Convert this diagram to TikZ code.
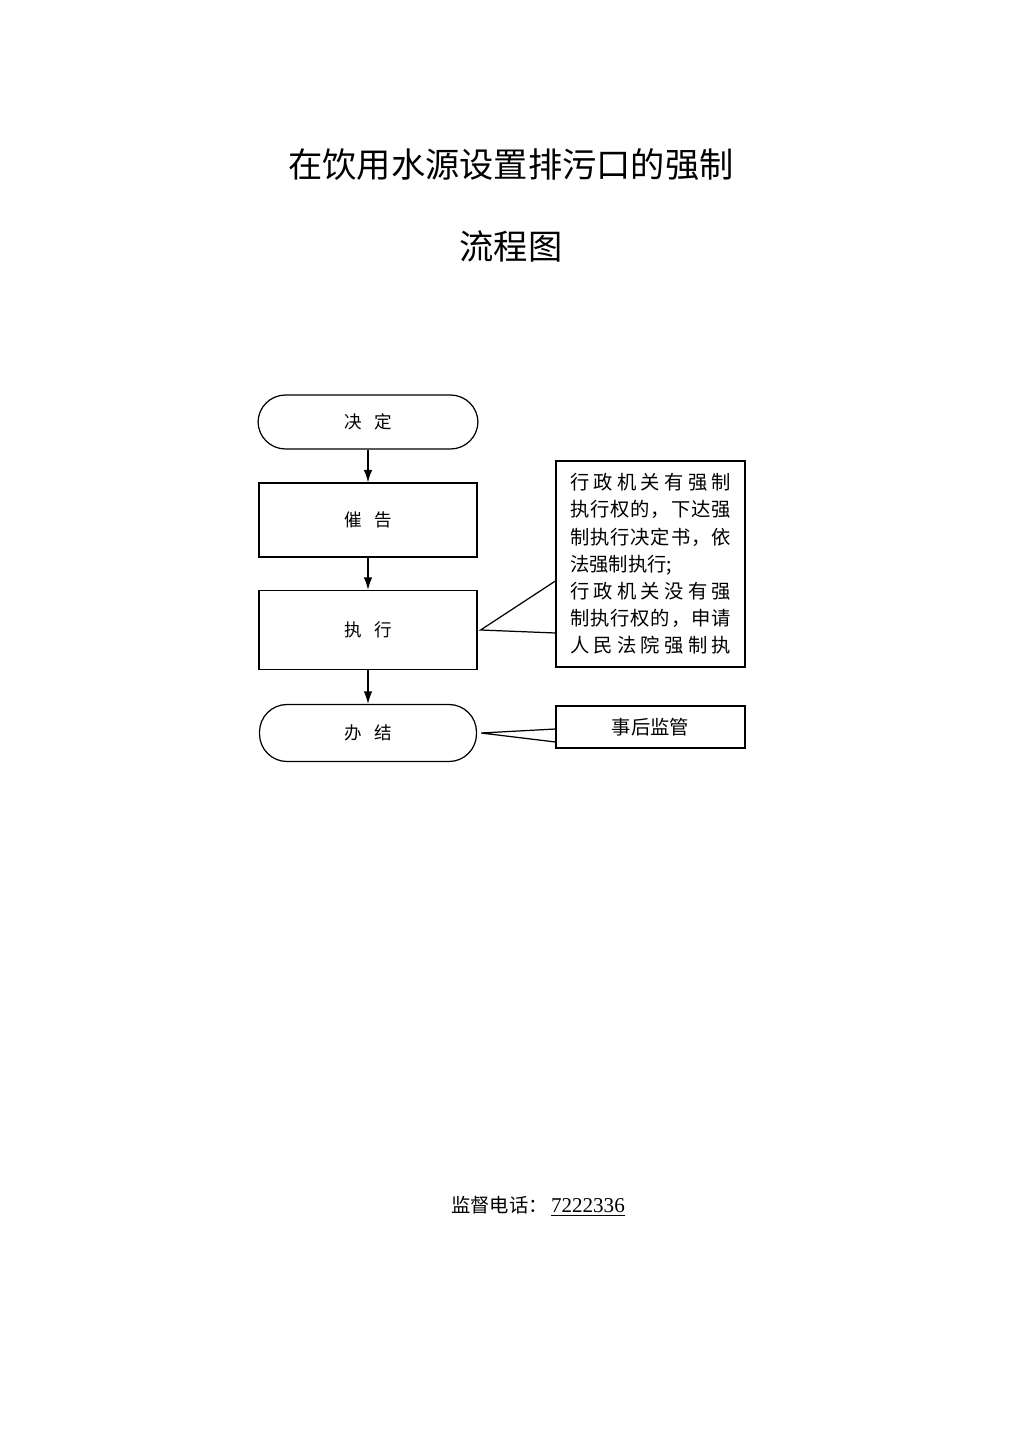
\documentclass[tikz,border=0pt]{standalone}
\usepackage{fontspec}
\setmainfont{Liberation Serif}
\newfontfamily\cjk{Noto Sans CJK SC}
\usetikzlibrary{arrows.meta}

\tikzset{
  flowbox/.style={draw,line width=0.7pt,minimum width=4.36cm,inner sep=0pt,
    font=\cjk\fontsize{10}{12}\selectfont},
  endbox/.style={flowbox,rounded corners=0.55cm},
  notebox/.style={draw,line width=0.7pt,minimum width=3.78cm,inner sep=0pt,
    font=\cjk\fontsize{11}{15.5}\selectfont},
  flowarrow/.style={-{Latex[length=2.5mm,width=1.7mm]},line width=0.7pt},
  callout/.style={line width=0.7pt}
}
\newcommand{\spreadline}[1]{\makebox[3.22cm][s]{\spaceskip=0pt plus 1fil\relax #1}}

\begin{document}
\begin{tikzpicture}[x=0.02cm,y=-0.02cm]

\useasboundingbox (0,0) rectangle (1024,1449);

% title
\node[font=\cjk\fontsize{19.5}{22}\selectfont] (title) at (511,165) {在饮用水源设置排污口的强制};
\node[font=\cjk\fontsize{19.5}{22}\selectfont] (subtitle) at (511,246) {流程图};

% main chain
\node[endbox,minimum width=4.4cm,minimum height=1.08cm] (decide) at (368,422) {决\hspace{0.7em}定};
\node[flowbox,minimum height=1.48cm] (warn) at (368,520) {催\hspace{0.7em}告};
\node[flowbox,minimum height=1.58cm] (exec) at (368,630) {执\hspace{0.7em}行};
\node[endbox,minimum width=4.34cm,minimum height=1.14cm] (finish) at (368,733) {办\hspace{0.7em}结};

\draw[flowarrow] (decide.south) -- (warn.north);
\draw[flowarrow] (warn.south) -- (exec.north);
\draw[flowarrow] (exec.south) -- (finish.north);

% notes
\node[notebox,minimum height=4.12cm,align=left] (note) at (650.5,564) {%
  \spreadline{行 政 机 关 有 强 制}\\
  \spreadline{执 行 权 的 ， 下 达 强}\\
  \spreadline{制 执 行 决 定 书 ， 依}\\
  法强制执行;\\
  \spreadline{行 政 机 关 没 有 强}\\
  \spreadline{制 执 行 权 的 ， 申 请}\\
  \spreadline{人 民 法 院 强 制 执}};
\node[notebox,minimum height=0.84cm] (supervise) at (650.5,727) {事后监管};

\coordinate (execTip) at ([xshift=0.06cm]exec.east);
\coordinate (noteUp) at ([yshift=-0.34cm]note.west);
\coordinate (noteLow) at ([yshift=-1.38cm]note.west);
\draw[callout] (noteUp) -- (execTip) -- (noteLow);

\coordinate (finishTip) at ([xshift=0.08cm]finish.east);
\coordinate (supUp) at ([yshift=-0.04cm]supervise.west);
\coordinate (supLow) at ([yshift=-0.3cm]supervise.west);
\draw[callout] (supUp) -- (finishTip) -- (supLow);

% footer
\node[font=\cjk\fontsize{11}{13}\selectfont] (phone) at (538,1206)
  {监督电话：\,{\rmfamily\fontsize{12}{13}\selectfont\underline{7222336}}};

\end{tikzpicture}
\end{document}
